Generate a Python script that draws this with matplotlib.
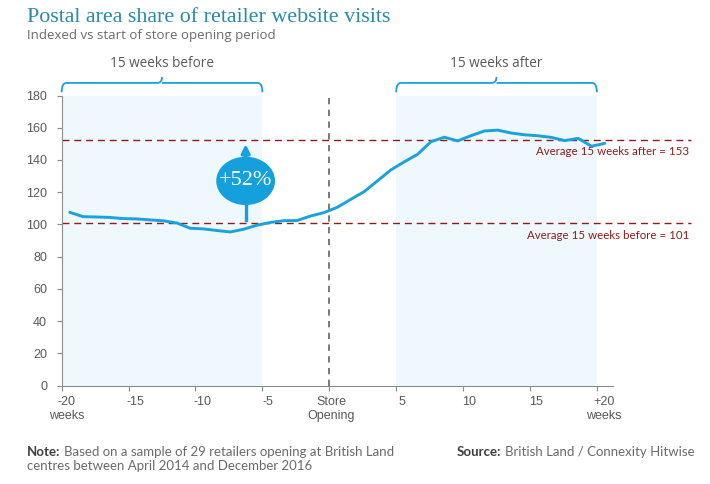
import matplotlib
matplotlib.use("Agg")
import matplotlib.pyplot as plt
import numpy as np
from matplotlib.patches import Ellipse, Rectangle, PathPatch
from matplotlib.path import Path
from matplotlib.transforms import ScaledTranslation

# ---------------- data ----------------
weeks = list(range(-20, 21))
index_values = [107.5, 104.8, 104.6, 104.3, 103.6, 103.4, 102.8, 102.2, 100.9, 97.6,
                97.2, 96.2, 95.3, 97.0, 99.5, 101.2, 102.3, 102.4, 105.2, 107.3,
                110.6, 115.5, 120.3, 127.0, 133.8, 138.8, 143.5, 151.3, 154.1, 151.8,
                155.1, 158.0, 158.5, 156.7, 155.6, 155.0, 154.0, 152.0, 153.4, 148.5,
                150.3]
avg_before = 101
avg_after = 153
pct_change = "+52%"
period_before = (-20, -5)
period_after = (5, 20)
xtick_pos = [-20, -15, -10, -5, 0, 5, 10, 15, 20]
xtick_labels = ["-20\nweeks", "-15", "-10", "-5", "Store\nOpening", "5", "10", "15", "+20\nweeks"]
ytick_pos = [0, 20, 40, 60, 80, 100, 120, 140, 160, 180]

X_OFFSET = 0.6  # points sit slightly right of the week ticks

# ---------------- style ----------------
LINE_C = "#1ba1dc"
SHADE_C = "#eff8fd"
RED_C = "#8e1c1c"
GRAY_T = "#595959"
AX_C = "#8c8c8c"
SANS = ["Liberation Sans", "DejaVu Sans"]
CAL = ["Lato", "DejaVu Sans"]
OPEN = ["Open Sans", "DejaVu Sans"]

fig = plt.figure(figsize=(7.1, 4.84), dpi=100)
ax = fig.add_axes([61.7 / 710, 98.5 / 484, (690.5 - 61.7) / 710, 290 / 484])
ax.set_xlim(-20, 27)
ax.set_ylim(0, 180)

# shaded periods
for (a, b) in (period_before, period_after):
    ax.add_patch(Rectangle((a, 0), b - a, 180, facecolor=SHADE_C, edgecolor="none", zorder=0))

# store opening line
ax.plot([0, 0], [0, 180], color="#6e6e6e", lw=1.3, ls=(0, (3.5, 3)), zorder=2)

# average lines
ax.plot([-20, 27], [avg_before, avg_before], color=RED_C, lw=1.0, ls=(0, (5, 3.5)), zorder=2, clip_on=False)
ax.plot([-20, 27], [avg_after - 0.5, avg_after - 0.5], color=RED_C, lw=1.0, ls=(0, (5, 3.5)), zorder=2, clip_on=False)
ax.text(26.9, 145, f"Average 15 weeks after = {avg_after}", color=RED_C,
        fontsize=8.3, ha="right", va="center", family=CAL)
ax.text(26.9, 93.2, f"Average 15 weeks before = {avg_before}", color=RED_C,
        fontsize=8.3, ha="right", va="center", family=CAL)

# main line
xs = np.array(weeks) + X_OFFSET
ax.plot(xs, index_values, color=LINE_C, lw=2.1, zorder=4, solid_capstyle="round")

# +52% bubble
cx, cy = -6.25, 127.0
ax.add_patch(Ellipse((cx, cy), 4.4, 30, facecolor="#14a0dc", edgecolor="none", zorder=5))
ax.plot([cx, cx], [cy - 14, 102.6], color="#14a0dc", lw=2.4, zorder=5)
ax.annotate("", xy=(cx, 151.5), xytext=(cx, cy + 13),
            arrowprops=dict(arrowstyle="-|>,head_length=0.5,head_width=0.25", color="#14a0dc", lw=2.4),
            zorder=5)
ax.text(cx, cy, pct_change, color="white", fontsize=16, ha="center", va="center",
        family=["Liberation Serif", "DejaVu Serif"], zorder=6)

# brackets above the periods
def bracket(a, b, label):
    base, low, peak = 187.8, 182.0, 191.5
    m = (a + b) / 2
    verts = [(a, low), (a, base), (a + 0.35, base),
             (m - 0.35, base), (m, base), (m, peak),
             (m, base), (m + 0.35, base), (m + 0.35, base),
             (b - 0.35, base), (b, base), (b, low)]
    codes = [Path.MOVETO, Path.CURVE3, Path.CURVE3,
             Path.LINETO, Path.CURVE3, Path.CURVE3,
             Path.MOVETO, Path.LINETO, Path.LINETO,
             Path.LINETO, Path.CURVE3, Path.CURVE3]
    p = PathPatch(Path(verts, codes), facecolor="none", edgecolor=LINE_C, lw=1.3, clip_on=False)
    ax.add_patch(p)
    ax.text(m, 200, label, ha="center", va="center", fontsize=9.8, color=GRAY_T, family=OPEN)

bracket(period_before[0], period_before[1], "15 weeks before")
bracket(period_after[0], period_after[1], "15 weeks after")

# axes styling
for s in ("top", "right"):
    ax.spines[s].set_visible(False)
ax.spines["left"].set_color(AX_C)
ax.spines["bottom"].set_color(AX_C)
ax.spines["bottom"].set_bounds(-20, 21.2)
ax.set_xticks(xtick_pos)
ax.set_xticklabels(xtick_labels)
ax.set_yticks(ytick_pos)
ax.tick_params(axis="both", colors=AX_C, labelcolor=GRAY_T, labelsize=9, length=3.5, width=0.8)
ax.tick_params(axis="x", pad=4)
ax.tick_params(axis="y", pad=7)
for lab in ax.get_xticklabels() + ax.get_yticklabels():
    lab.set_family(SANS)
offsets = [5, 7, 7, 6, 2, 6, 6, 6, 7]
for lab, dx in zip(ax.get_xticklabels(), offsets):
    lab.set_transform(lab.get_transform() + ScaledTranslation(dx / 100, 0, fig.dpi_scale_trans))

# titles
fig.text(27 / 710, 1 - 18 / 484, "Postal area share of retailer website visits", color="#2a8aa8",
         fontsize=15.8, ha="left", va="center", family=["Liberation Serif", "DejaVu Serif"])
fig.text(27 / 710, 1 - 36 / 484, "Indexed vs start of store opening period", color="#6b6b6b",
         fontsize=9.5, ha="left", va="center", family=OPEN)

# footnotes
NOTE_FS = 9.5
y1 = 1 - 456 / 484
y2 = 1 - 470 / 484
t_note = fig.text(27 / 710, y1, "Note:", color="#3f3f3f", fontsize=NOTE_FS,
                  ha="left", va="baseline", family=CAL, fontweight="bold")
fig.add_artist(matplotlib.text.Annotation(
    "Based on a sample of 29 retailers opening at British Land", xy=(1, y1),
    xycoords=(t_note, fig.transFigure), xytext=(2.5, 0), textcoords="offset points",
    ha="left", va="baseline", color="#6b6b6b", fontsize=NOTE_FS, family=CAL))
fig.text(27 / 710, y2, "centres between April 2014 and December 2016",
         color="#6b6b6b", fontsize=NOTE_FS, ha="left", va="baseline", family=CAL)
t_src = fig.text(457 / 710, y1, "Source:", color="#3f3f3f", fontsize=NOTE_FS, ha="left",
                 va="baseline", family=CAL, fontweight="bold")
fig.add_artist(matplotlib.text.Annotation(
    "British Land / Connexity Hitwise", xy=(1, y1),
    xycoords=(t_src, fig.transFigure), xytext=(2.5, 0), textcoords="offset points",
    ha="left", va="baseline", color="#6b6b6b", fontsize=NOTE_FS, family=CAL))

fig.savefig("out.png", dpi=100, facecolor="white")
